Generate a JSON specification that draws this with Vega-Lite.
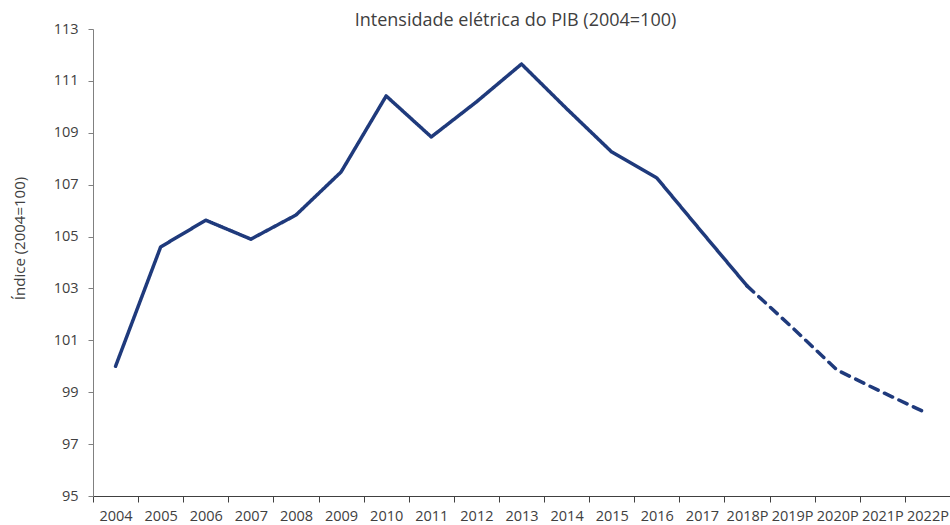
{
  "$schema": "https://vega.github.io/schema/vega-lite/v6.json",
  "width": 857,
  "height": 467,
  "autosize": "none",
  "padding": {"left": 93, "top": 29, "right": 0, "bottom": 29},
  "background": "white",
  "title": {
    "text": "Intensidade elétrica do PIB (2004=100)",
    "font": "Open Sans",
    "fontSize": 18,
    "fontWeight": "normal",
    "color": "#404040",
    "anchor": "middle",
    "offset": -9,
    "dx": -6
  },
  "config": {
    "view": {"stroke": null},
    "axis": {
      "labelFont": "Open Sans",
      "titleFont": "Open Sans",
      "labelColor": "#404040",
      "titleColor": "#404040",
      "domainColor": "#808080",
      "tickColor": "#808080",
      "grid": false
    }
  },
  "data": {
    "values": [
      {"ano": "2004", "indice": 100.0, "serie": "Real"},
      {"ano": "2005", "indice": 104.6, "serie": "Real"},
      {"ano": "2006", "indice": 105.63, "serie": "Real"},
      {"ano": "2007", "indice": 104.9, "serie": "Real"},
      {"ano": "2008", "indice": 105.83, "serie": "Real"},
      {"ano": "2009", "indice": 107.49, "serie": "Real"},
      {"ano": "2010", "indice": 110.42, "serie": "Real"},
      {"ano": "2011", "indice": 108.84, "serie": "Real"},
      {"ano": "2012", "indice": 110.19, "serie": "Real"},
      {"ano": "2013", "indice": 111.65, "serie": "Real"},
      {"ano": "2014", "indice": 109.93, "serie": "Real"},
      {"ano": "2015", "indice": 108.26, "serie": "Real"},
      {"ano": "2016", "indice": 107.26, "serie": "Real"},
      {"ano": "2017", "indice": 105.17, "serie": "Real"},
      {"ano": "2018P", "indice": 103.1, "serie": "Real"},
      {"ano": "2018P", "indice": 103.1, "serie": "Projeção"},
      {"ano": "2019P", "indice": 101.5, "serie": "Projeção"},
      {"ano": "2020P", "indice": 99.85, "serie": "Projeção"},
      {"ano": "2021P", "indice": 99.0, "serie": "Projeção"},
      {"ano": "2022P", "indice": 98.18, "serie": "Projeção"}
    ]
  },
  "mark": {"type": "line", "color": "#1F3A7C", "strokeWidth": 3.5, "strokeCap": "round", "strokeJoin": "round"},
  "encoding": {
    "x": {
      "field": "ano",
      "type": "ordinal",
      "sort": null,
      "title": null,
      "scale": {"type": "band", "paddingInner": 0, "paddingOuter": 0},
      "axis": {
        "labelAngle": 0,
        "labelFontSize": 14.5,
        "tickBand": "extent",
        "tickSize": 6,
        "labelPadding": 7,
        "domainColor": "#404040",
        "tickColor": "#404040"
      }
    },
    "y": {
      "field": "indice",
      "type": "quantitative",
      "title": "Índice (2004=100)",
      "scale": {"domain": [95, 113], "nice": false, "zero": false},
      "axis": {
        "values": [95, 97, 99, 101, 103, 105, 107, 109, 111, 113],
        "labelFontSize": 14.5,
        "titleFontSize": 15,
        "titleFontWeight": "normal",
        "tickSize": 5,
        "labelPadding": 10,
        "titlePadding": 26,
        "titleY": 209
      }
    },
    "strokeDash": {
      "field": "serie",
      "type": "nominal",
      "scale": {"domain": ["Real", "Projeção"], "range": [[1, 0], [9, 7]]},
      "legend": null
    }
  }
}
